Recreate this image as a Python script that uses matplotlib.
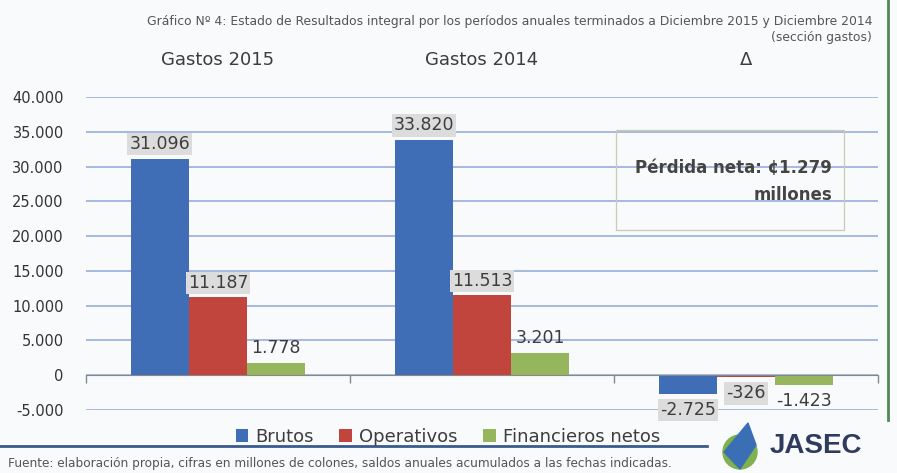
import matplotlib
matplotlib.use("Agg")
import matplotlib.pyplot as plt
from matplotlib.lines import Line2D
from matplotlib.patches import Rectangle, Polygon, Ellipse
from matplotlib.ticker import MultipleLocator, FuncFormatter, FixedLocator

# valores en millones de colones
categorias = ["Gastos 2015", "Gastos 2014", "Δ"]
series = ["Brutos", "Operativos", "Financieros netos"]
brutos = [31096, 33820, -2725]
operativos = [11187, 11513, -326]
financieros = [1778, 3201, -1423]

colores = ["#3f6db6", "#c1453c", "#95b65c"]
TXT = "#3d3d3d"
BG = "#f9fafc"


def miles(v):
    return f"{int(v):,}".replace(",", ".")


fig = plt.figure(figsize=(8.97, 4.73), dpi=100, facecolor=BG)
W, H = 897, 473
ax = fig.add_axes([86 / W, 1 - 410 / H, (878 - 86) / W, (410 - 97) / H])
ax.set_facecolor(BG)

x = list(range(len(categorias)))
ancho = 0.22
con_caja = [True, True, False]
for i, (nombre, vals) in enumerate(zip(series, (brutos, operativos, financieros))):
    pos = [xi + (i - 1) * ancho for xi in x]
    barras = ax.bar(pos, vals, ancho, color=colores[i], label=nombre, zorder=3)
    for b, v in zip(barras, vals):
        dy = 4 if v >= 0 else -5
        caja = dict(facecolor="#dcdcdc", edgecolor="none", pad=1.5) if con_caja[i] else None
        ax.annotate(miles(v), (b.get_x() + b.get_width() / 2, v),
                    xytext=(0, dy), textcoords="offset points",
                    ha="center", va="bottom" if v >= 0 else "top",
                    fontsize=12.5, color=TXT, bbox=caja, zorder=4)

ax.set_xlim(-0.5, len(categorias) - 0.5)
ax.set_ylim(-5000, 40000)
ax.yaxis.set_major_locator(MultipleLocator(5000))
ax.yaxis.set_major_formatter(FuncFormatter(lambda v, p: miles(v)))
ax.grid(axis="y", color="#8ea8d8", lw=1.1, zorder=0)
ax.tick_params(axis="y", length=0, pad=16, labelsize=10.5, labelcolor="#333333")

# categorias arriba, marcas de separacion sobre el eje en 0
ax.set_xticks(x)
ax.set_xticklabels(categorias)
ax.tick_params(axis="x", which="major", bottom=False, top=False,
               labelbottom=False, labeltop=True, pad=17,
               labelsize=13, labelcolor=TXT)
ax.xaxis.set_minor_locator(FixedLocator([c - 0.5 for c in range(len(categorias) + 1)]))
ax.tick_params(axis="x", which="minor", bottom=True, top=False,
               direction="out", length=6, width=1, color="#888888")
for s in ("top", "right", "left"):
    ax.spines[s].set_visible(False)
ax.spines["bottom"].set_position(("data", 0))
ax.spines["bottom"].set_color("#888888")
ax.spines["bottom"].set_zorder(5)

# titulo
fig.text(872 / W, 1 - 21 / H,
         "Gráfico Nº 4: Estado de Resultados integral por los períodos anuales "
         "terminados a Diciembre 2015 y Diciembre 2014",
         ha="right", va="center", fontsize=8.9, color="#555555")
fig.text(872 / W, 1 - 38 / H, "(sección gastos)", ha="right", va="center",
         fontsize=8.9, color="#555555")

# recuadro de perdida neta
fig.add_artist(Rectangle((616 / W, 1 - 230 / H), 228 / W, 100 / H,
                         transform=fig.transFigure, fill=False,
                         edgecolor="#c9ccb0", lw=0.9))
fig.text(832 / W, 1 - 168 / H, "Pérdida neta: ¢1.279", ha="right", va="center",
         fontsize=12, weight="bold", color="#444444")
fig.text(832 / W, 1 - 195 / H, "millones", ha="right", va="center",
         fontsize=12, weight="bold", color="#444444")

# leyenda
fig.legend(loc="center", bbox_to_anchor=(448 / W, 1 - 437 / H), ncol=3,
           frameon=False, fontsize=13, handlelength=0.7, handleheight=0.7,
           handletextpad=0.4, columnspacing=1.4, labelcolor=TXT)
fig.add_artist(Line2D([0, 707 / W], [1 - 446 / H, 1 - 446 / H],
                      transform=fig.transFigure, color="#3a5a8e", lw=2))
fig.add_artist(Line2D([888 / W, 888 / W], [1 - 420 / H, 1],
                      transform=fig.transFigure, color="#4f8a55", lw=2))

fig.text(8 / W, 1 - 463 / H,
         "Fuente: elaboración propia, cifras en millones de colones, saldos "
         "anuales acumulados a las fechas indicadas.",
         ha="left", va="center", fontsize=8.75, color="#555555")

# logo
fig.add_artist(Ellipse((740 / W, 1 - 452 / H), 34 / W, 34 / H,
                       transform=fig.transFigure, color="#7fb24e"))
fig.add_artist(Polygon([(724 / W, 1 - 452 / H), (748 / W, 1 - 423 / H),
                        (756 / W, 1 - 445 / H), (740 / W, 1 - 469 / H)],
                       closed=True, transform=fig.transFigure, color="#3a6fb5"))
fig.text(770 / W, 1 - 446 / H, "JASEC", ha="left", va="center",
         fontsize=20, weight="bold", color="#2f3b5e", family="Liberation Sans")

fig.savefig("out.png", dpi=100, facecolor=BG)
